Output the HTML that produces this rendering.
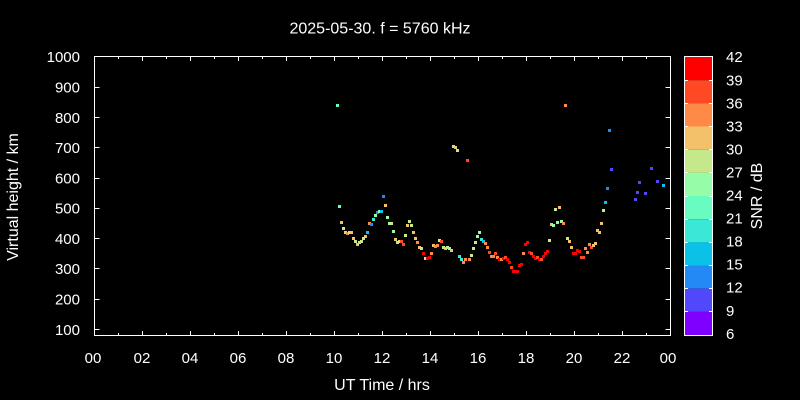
<!DOCTYPE html>
<html><head><meta charset="utf-8"><style>
html,body{margin:0;padding:0;background:#000;}
svg{display:block;}
text{font-family:"Liberation Sans",sans-serif;font-size:15px;fill:#fff;}
.big{font-size:16px;}
.V{fill:#8000ff}.P{fill:#5148fc}.B{fill:#238af5}.C{fill:#0cc1e8}.A{fill:#3ae8d7}.M{fill:#68fcc1}.L{fill:#97fca7}.G{fill:#c5e88a}.T{fill:#f3c16a}.O{fill:#ff8a48}.Q{fill:#ff4824}.R{fill:#ff0000}
</style></head><body>
<svg width="800" height="400" viewBox="0 0 800 400" xmlns="http://www.w3.org/2000/svg">
<rect x="0" y="0" width="800" height="400" fill="#000"/>
<text class="big" x="380" y="33.5" text-anchor="middle">2025-05-30. f = 5760 kHz</text>

<g stroke="#fff" stroke-width="1" fill="none" shape-rendering="crispEdges">
<rect x="94.5" y="56.5" width="576" height="279"/>
<path d="M94.5 87.5h5M94.5 117.5h5M94.5 147.5h5M94.5 178.5h5M94.5 208.5h5M94.5 238.5h5M94.5 268.5h5M94.5 299.5h5M94.5 329.5h5"/>
<path d="M670.5 87.5h-5M670.5 117.5h-5M670.5 147.5h-5M670.5 178.5h-5M670.5 208.5h-5M670.5 238.5h-5M670.5 268.5h-5M670.5 299.5h-5M670.5 329.5h-5"/>
<path d="M142.5 335v-4M190.5 335v-4M238.5 335v-4M286.5 335v-4M334.5 335v-4M382.5 335v-4M430.5 335v-4M478.5 335v-4M526.5 335v-4M574.5 335v-4M622.5 335v-4"/>
<path d="M142.5 57v4M190.5 57v4M238.5 57v4M286.5 57v4M334.5 57v4M382.5 57v4M430.5 57v4M478.5 57v4M526.5 57v4M574.5 57v4M622.5 57v4"/>
<path d="M118.5 335v-2M166.5 335v-2M214.5 335v-2M262.5 335v-2M310.5 335v-2M358.5 335v-2M406.5 335v-2M454.5 335v-2M502.5 335v-2M550.5 335v-2M598.5 335v-2M646.5 335v-2"/>
<path d="M118.5 57v2M166.5 57v2M214.5 57v2M262.5 57v2M310.5 57v2M358.5 57v2M406.5 57v2M454.5 57v2M502.5 57v2M550.5 57v2M598.5 57v2M646.5 57v2"/>
</g>

<g text-anchor="end">
<text x="80" y="62">1000</text>
<text x="80" y="92.5">900</text>
<text x="80" y="122.8">800</text>
<text x="80" y="153.1">700</text>
<text x="80" y="183.4">600</text>
<text x="80" y="213.7">500</text>
<text x="80" y="244">400</text>
<text x="80" y="274.2">300</text>
<text x="80" y="304.5">200</text>
<text x="80" y="334.8">100</text>
</g>
<g text-anchor="middle">
<text x="93" y="363">00</text>
<text x="142" y="363">02</text>
<text x="190" y="363">04</text>
<text x="238" y="363">06</text>
<text x="286" y="363">08</text>
<text x="334" y="363">10</text>
<text x="382" y="363">12</text>
<text x="430" y="363">14</text>
<text x="478" y="363">16</text>
<text x="526" y="363">18</text>
<text x="574" y="363">20</text>
<text x="622" y="363">22</text>
<text x="668" y="363">00</text>
<text class="big" x="382" y="390">UT Time / hrs</text>
</g>
<text class="big" transform="translate(18,197) rotate(-90)" text-anchor="middle">Virtual height / km</text>
<text class="big" transform="translate(762,196) rotate(-90)" text-anchor="middle">SNR / dB</text>

<g>
<rect x="684" y="57" width="29" height="23.2" fill="#ff0000"/>
<rect x="684" y="80.2" width="29" height="23.2" fill="#ff4824"/>
<rect x="684" y="103.3" width="29" height="23.2" fill="#ff8a48"/>
<rect x="684" y="126.5" width="29" height="23.2" fill="#f3c16a"/>
<rect x="684" y="149.7" width="29" height="23.2" fill="#c5e88a"/>
<rect x="684" y="172.8" width="29" height="23.2" fill="#97fca7"/>
<rect x="684" y="196" width="29" height="23.2" fill="#68fcc1"/>
<rect x="684" y="219.2" width="29" height="23.2" fill="#3ae8d7"/>
<rect x="684" y="242.3" width="29" height="23.2" fill="#0cc1e8"/>
<rect x="684" y="265.5" width="29" height="23.2" fill="#238af5"/>
<rect x="684" y="288.7" width="29" height="23.2" fill="#5148fc"/>
<rect x="684" y="311.8" width="29" height="23.2" fill="#8000ff"/>
</g>
<g stroke="#fff" stroke-width="1" fill="none" shape-rendering="crispEdges">
<rect x="684.5" y="56.5" width="28" height="279"/>
<path d="M684 80.5h4M684 103.5h4M684 126.5h4M684 149.5h4M684 172.5h4M684 196.5h4M684 219.5h4M684 242.5h4M684 265.5h4M684 288.5h4M684 311.5h4"/>
<path d="M713 80.5h-4M713 103.5h-4M713 126.5h-4M713 149.5h-4M713 172.5h-4M713 196.5h-4M713 219.5h-4M713 242.5h-4M713 265.5h-4M713 288.5h-4M713 311.5h-4"/>
</g>
<g>
<text x="726" y="62">42</text>
<text x="726" y="85.5">39</text>
<text x="726" y="108.5">36</text>
<text x="726" y="131.5">33</text>
<text x="726" y="154.5">30</text>
<text x="726" y="177.5">27</text>
<text x="726" y="200.5">24</text>
<text x="726" y="223.5">21</text>
<text x="726" y="246.5">18</text>
<text x="726" y="269.5">15</text>
<text x="726" y="292.5">12</text>
<text x="726" y="316">9</text>
<text x="726" y="339">6</text>
</g>

<g shape-rendering="crispEdges">
<rect class="M" x="336" y="104" width="3" height="3"/>
<rect class="L" x="452" y="145" width="3" height="3"/>
<rect class="T" x="454" y="146" width="3" height="3"/>
<rect class="G" x="456" y="149" width="3" height="3"/>
<rect class="Q" x="466" y="159" width="3" height="3"/>
<rect class="O" x="564" y="104" width="3" height="3"/>
<rect class="B" x="608" y="129" width="3" height="3"/>
<rect class="P" x="610" y="168" width="3" height="3"/>
<rect class="B" x="606" y="187" width="3" height="3"/>
<rect class="P" x="650" y="167" width="3" height="3"/>
<rect class="P" x="638" y="181" width="3" height="3"/>
<rect class="P" x="656" y="180" width="3" height="3"/>
<rect class="P" x="636" y="191" width="3" height="3"/>
<rect class="P" x="644" y="192" width="3" height="3"/>
<rect class="C" x="662" y="184" width="3" height="3"/>
<rect class="P" x="634" y="198" width="3" height="3"/>

<rect class="M" x="338" y="205" width="3" height="3"/>
<rect class="T" x="340" y="221" width="3" height="3"/>
<rect class="G" x="342" y="227" width="3" height="3"/>
<rect class="G" x="344" y="231" width="3" height="3"/>
<rect class="O" x="346" y="232" width="3" height="3"/>
<rect class="G" x="348" y="231" width="3" height="3"/>
<rect class="T" x="350" y="231" width="3" height="3"/>
<rect class="T" x="352" y="237" width="3" height="3"/>
<rect class="G" x="354" y="240" width="3" height="3"/>
<rect class="T" x="356" y="243" width="3" height="3"/>
<rect class="G" x="358" y="241" width="3" height="3"/>
<rect class="G" x="360" y="240" width="3" height="3"/>
<rect class="G" x="362" y="237" width="3" height="3"/>
<rect class="T" x="364" y="235" width="3" height="3"/>
<rect class="C" x="366" y="231" width="3" height="3"/>
<rect class="O" x="368" y="222" width="3" height="3"/>
<rect class="B" x="370" y="223" width="3" height="3"/>
<rect class="A" x="372" y="218" width="3" height="3"/>
<rect class="L" x="374" y="214" width="3" height="3"/>
<rect class="B" x="376" y="211" width="3" height="3"/>
<rect class="L" x="378" y="210" width="3" height="3"/>
<rect class="C" x="380" y="210" width="3" height="3"/>
<rect class="B" x="382" y="195" width="3" height="3"/>
<rect class="T" x="384" y="204" width="3" height="3"/>
<rect class="L" x="386" y="216" width="3" height="3"/>
<rect class="L" x="388" y="222" width="3" height="3"/>
<rect class="G" x="390" y="222" width="3" height="3"/>
<rect class="L" x="392" y="230" width="3" height="3"/>
<rect class="T" x="394" y="238" width="3" height="3"/>
<rect class="G" x="396" y="241" width="3" height="3"/>
<rect class="G" x="398" y="240" width="3" height="3"/>
<rect class="Q" x="400" y="240" width="3" height="3"/>
<rect class="Q" x="402" y="243" width="3" height="3"/>
<rect class="G" x="404" y="234" width="3" height="3"/>
<rect class="T" x="406" y="224" width="3" height="3"/>
<rect class="G" x="408" y="220" width="3" height="3"/>
<rect class="G" x="410" y="224" width="3" height="3"/>
<rect class="T" x="412" y="231" width="3" height="3"/>
<rect class="T" x="414" y="237" width="3" height="3"/>
<rect class="O" x="416" y="241" width="3" height="3"/>
<rect class="T" x="418" y="246" width="3" height="3"/>
<rect class="G" x="420" y="247" width="3" height="3"/>
<rect class="R" x="422" y="252" width="3" height="3"/>
<rect class="G" x="424" y="257" width="3" height="3"/>
<rect class="R" x="426" y="257" width="3" height="3"/>
<rect class="R" x="428" y="256" width="3" height="3"/>
<rect class="O" x="430" y="252" width="3" height="3"/>
<rect class="T" x="432" y="244" width="3" height="3"/>
<rect class="O" x="434" y="245" width="3" height="3"/>
<rect class="O" x="436" y="244" width="3" height="3"/>
<rect class="G" x="438" y="239" width="3" height="3"/>
<rect class="Q" x="440" y="240" width="3" height="3"/>
<rect class="G" x="442" y="246" width="3" height="3"/>
<rect class="T" x="444" y="247" width="3" height="3"/>
<rect class="G" x="446" y="246" width="3" height="3"/>
<rect class="L" x="448" y="247" width="3" height="3"/>
<rect class="T" x="450" y="249" width="3" height="3"/>

<rect class="A" x="458" y="255" width="3" height="3"/>
<rect class="A" x="460" y="258" width="3" height="3"/>
<rect class="O" x="462" y="261" width="3" height="3"/>
<rect class="O" x="464" y="258" width="3" height="3"/>
<rect class="O" x="468" y="258" width="3" height="3"/>
<rect class="G" x="470" y="254" width="3" height="3"/>
<rect class="G" x="472" y="247" width="3" height="3"/>
<rect class="G" x="474" y="241" width="3" height="3"/>
<rect class="L" x="476" y="235" width="3" height="3"/>
<rect class="L" x="478" y="231" width="3" height="3"/>
<rect class="A" x="480" y="238" width="3" height="3"/>
<rect class="C" x="482" y="240" width="3" height="3"/>
<rect class="O" x="484" y="242" width="3" height="3"/>
<rect class="O" x="486" y="246" width="3" height="3"/>
<rect class="Q" x="488" y="251" width="3" height="3"/>
<rect class="O" x="490" y="255" width="3" height="3"/>
<rect class="O" x="492" y="255" width="3" height="3"/>
<rect class="Q" x="494" y="252" width="3" height="3"/>
<rect class="O" x="496" y="256" width="3" height="3"/>
<rect class="R" x="498" y="258" width="3" height="3"/>
<rect class="O" x="500" y="258" width="3" height="3"/>
<rect class="R" x="502" y="257" width="3" height="3"/>
<rect class="Q" x="504" y="256" width="3" height="3"/>
<rect class="R" x="506" y="258" width="3" height="3"/>
<rect class="R" x="508" y="261" width="3" height="3"/>
<rect class="Q" x="510" y="266" width="3" height="3"/>
<rect class="R" x="512" y="270" width="3" height="3"/>
<rect class="R" x="514" y="270" width="3" height="3"/>
<rect class="R" x="516" y="270" width="3" height="3"/>
<rect class="R" x="518" y="264" width="3" height="3"/>
<rect class="R" x="520" y="263" width="3" height="3"/>
<rect class="O" x="522" y="252" width="3" height="3"/>
<rect class="R" x="524" y="243" width="3" height="3"/>
<rect class="R" x="526" y="241" width="3" height="3"/>
<rect class="R" x="528" y="251" width="3" height="3"/>
<rect class="Q" x="530" y="252" width="3" height="3"/>
<rect class="R" x="532" y="255" width="3" height="3"/>
<rect class="R" x="534" y="257" width="3" height="3"/>
<rect class="Q" x="536" y="256" width="3" height="3"/>
<rect class="R" x="538" y="258" width="3" height="3"/>
<rect class="Q" x="540" y="258" width="3" height="3"/>
<rect class="R" x="542" y="255" width="3" height="3"/>
<rect class="R" x="544" y="252" width="3" height="3"/>
<rect class="R" x="546" y="250" width="3" height="3"/>
<rect class="G" x="548" y="239" width="3" height="3"/>

<rect class="T" x="550" y="223" width="3" height="3"/>
<rect class="L" x="552" y="224" width="3" height="3"/>
<rect class="G" x="554" y="208" width="3" height="3"/>
<rect class="L" x="556" y="221" width="3" height="3"/>
<rect class="T" x="558" y="206" width="3" height="3"/>
<rect class="L" x="560" y="220" width="3" height="3"/>
<rect class="O" x="562" y="222" width="3" height="3"/>
<rect class="G" x="566" y="237" width="3" height="3"/>
<rect class="T" x="568" y="240" width="3" height="3"/>
<rect class="T" x="570" y="246" width="3" height="3"/>
<rect class="R" x="572" y="252" width="3" height="3"/>
<rect class="R" x="574" y="252" width="3" height="3"/>
<rect class="R" x="576" y="249" width="3" height="3"/>
<rect class="R" x="578" y="250" width="3" height="3"/>
<rect class="Q" x="580" y="256" width="3" height="3"/>
<rect class="Q" x="582" y="256" width="3" height="3"/>
<rect class="O" x="584" y="247" width="3" height="3"/>
<rect class="O" x="586" y="251" width="3" height="3"/>
<rect class="O" x="588" y="243" width="3" height="3"/>
<rect class="Q" x="590" y="246" width="3" height="3"/>
<rect class="T" x="592" y="244" width="3" height="3"/>
<rect class="T" x="594" y="242" width="3" height="3"/>
<rect class="T" x="596" y="229" width="3" height="3"/>
<rect class="T" x="598" y="231" width="3" height="3"/>
<rect class="T" x="600" y="222" width="3" height="3"/>
<rect class="G" x="602" y="209" width="3" height="3"/>
<rect class="C" x="604" y="201" width="3" height="3"/>
</g>
</svg>
</body></html>
